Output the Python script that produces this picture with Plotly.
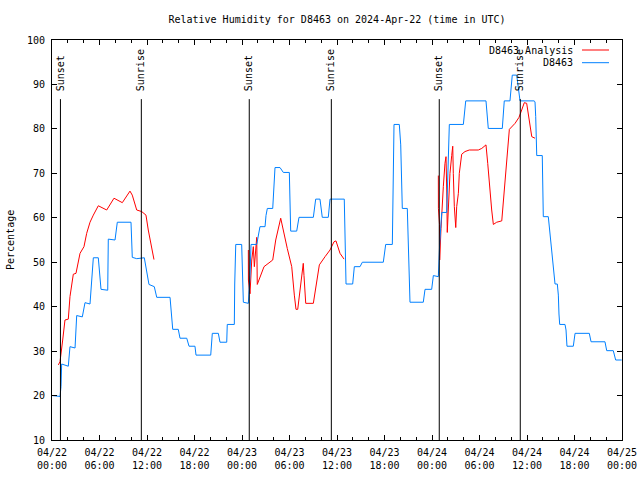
import pandas as pd
import plotly.graph_objects as go

BASE = pd.Timestamp("2024-04-22 00:00")

# Observations D8463 (hours since 2024-04-22 00:00 UTC, RH %)
obs_hours = [0.0, 1.01, 1.14, 1.17, 1.22, 2.06, 2.27, 2.91, 3.12, 3.83, 4.17, 4.80, 5.22, 5.85,
             6.19, 7.04, 7.11, 7.96, 8.25, 9.98, 10.14, 10.70, 11.66, 12.25, 12.92, 13.23, 14.91,
             15.25, 15.95, 16.17, 17.02, 17.31, 18.06, 18.19, 20.05, 20.25, 21.01, 21.22, 22.07,
             22.14, 23.03, 23.08, 23.21, 23.96, 24.17, 24.80, 25.01, 25.14, 25.86, 26.27, 26.91,
             27.03, 27.20, 27.88, 28.17, 28.80, 29.22, 29.98, 30.15, 30.91, 31.20, 33.01, 33.31,
             33.85, 34.14, 34.90, 35.12, 36.92, 37.14, 37.98, 38.19, 38.91, 39.20, 41.85, 42.15,
             42.99, 43.20, 43.87, 44.05, 44.25, 44.88, 45.22, 46.90, 47.12, 47.96, 48.17, 48.80,
             48.97, 49.23, 49.86, 50.19, 51.96, 52.26, 54.82, 55.11, 56.88, 57.13, 57.85, 58.14,
             58.70, 59.12, 60.89, 61.01, 61.10, 61.23, 61.93, 61.98, 62.06, 62.69, 62.78, 62.91,
             63.03, 63.20, 63.32, 63.45, 63.54, 63.83, 63.96, 64.04, 64.13, 64.80, 64.93, 65.05,
             65.85, 66.07, 67.87, 68.09, 69.85, 70.07, 70.90, 71.20, 71.96]
obs_rh = [20, 19.8, 22, 25.4, 27.1, 26.6, 31, 30.7, 38, 37.7, 40.9, 40.6, 51, 51,
          43.9, 43.7, 55.2, 55, 59, 59, 51.1, 50.8, 51, 45, 44.5, 42.1, 42.1,
          34.9, 34.9, 32.9, 32.9, 31.1, 31.1, 29.1, 29.1, 34, 34, 32, 32,
          36, 36, 45.1, 54, 54, 41, 40.75, 47, 54, 54, 58, 58,
          60.5, 62.1, 62.1, 71.3, 71.3, 70.2, 70.2, 57, 57, 60.1, 60.1, 64.2,
          64.2, 60.1, 60.1, 64.2, 64.2, 45.1, 45.1, 49, 49, 50, 50, 54,
          54, 81, 81, 76.4, 62.1, 62.1, 41, 41, 43.9, 43.9, 47, 46.75,
          54.2, 61.2, 61.2, 81, 81, 86.3, 86.3, 80.1, 80.1, 86.3, 86.3, 92.1,
          92.1, 86.3, 86.3, 86.1, 82.75, 74, 74, 67.1, 60.25, 60.25, 58.75, 56.5,
          53.9, 51.25, 48.6, 46.2, 45.1, 45.1, 42.6, 38.35, 36, 36, 34.75, 31.1,
          31.1, 34, 34, 32.1, 32.1, 30.1, 30.1, 28, 28]

# Analysis D8463 (three separate segments)
ana_hours_1 = [0.80, 1.01, 1.35, 1.64, 2.06, 2.27, 2.69, 3.03, 3.54, 4.04, 4.38, 4.80, 5.22, 5.85,
               6.91, 7.83, 8.88, 9.85, 10.14, 10.70, 11.33, 11.87, 12.16, 12.59, 12.88]
ana_rh_1 = [26.9, 27.6, 32.5, 37, 37.2, 42.25, 47.3, 47.5, 52, 53.5, 56.5, 59, 60.6, 62.7,
            61.75, 64.4, 63.4, 66, 65.1, 61.75, 61.4, 60.6, 57.25, 53.5, 50.6]
ana_hours_2 = [24.80, 24.81, 25.01, 25.23, 25.43, 25.56, 25.86, 25.93, 26.78, 27.88, 28.26, 28.89,
               29.72, 30.28, 30.61, 30.82, 31.04, 31.24, 31.54, 31.74, 31.83, 31.96, 32.05, 33.01,
               33.22, 33.77, 34.49, 35.12, 35.62, 35.87, 36.38, 36.89]
ana_rh_2 = [52.75, 46, 42.9, 50.5, 53.5, 49, 55.6, 45, 49, 50.5, 55, 59.9,
            53.1, 49, 42.6, 39.4, 39.4, 42.25, 47.5, 49.75, 47, 43, 40.75, 40.75,
            43, 49.4, 51.25, 52.75, 54.6, 54.8, 52, 50.7]
ana_hours_3 = [48.80, 48.81, 48.95, 48.97, 49.14, 49.30, 49.43, 49.64, 49.77, 49.86, 49.93, 50.06,
               50.27, 50.49, 50.62, 50.69, 50.82, 51.00, 51.12, 51.33, 51.45, 51.75, 52.17, 52.71,
               53.85, 54.28, 54.82, 55.04, 55.33, 55.54, 55.75, 56.17, 56.81, 57.01, 57.35, 57.56,
               57.77, 58.49, 58.99, 59.33, 59.66, 59.96, 60.25, 60.60, 61.01]
ana_rh_3 = [69.5, 62.1, 58.5, 50.5, 57.6, 64, 67, 72.25, 73.75, 66.25, 56.7, 61.75,
            70, 74, 76.1, 70, 62.5, 57.8, 62.5, 65.5, 70, 74.3, 74.9, 75.25,
            75.25, 75.6, 76.4, 72.25, 65.5, 61.75, 58.5, 59, 59.3, 64, 70, 76,
            79.9, 81.25, 82.6, 84.25, 85.9, 85.75, 82, 78.25, 77.9]

# Sun events
event_times = ["2024-04-22 01:04", "2024-04-22 11:17", "2024-04-23 00:55",
               "2024-04-23 11:17", "2024-04-24 00:55", "2024-04-24 11:09"]
event_labels = ["Sunset", "Sunrise", "Sunset", "Sunrise", "Sunset", "Sunrise"]

y_ticks = list(range(10, 101, 10))


def to_time(hours):
    return list(BASE + pd.to_timedelta(hours, unit="h"))


ana_x = to_time(ana_hours_1) + [None] + to_time(ana_hours_2) + [None] + to_time(ana_hours_3)
ana_y = ana_rh_1 + [None] + ana_rh_2 + [None] + ana_rh_3

FONT = "DejaVu Sans Mono"
RED = "#ff0000"
BLUE = "#0080ff"

fig = go.Figure()
fig.add_trace(go.Scatter(x=ana_x, y=ana_y, mode="lines", name="D8463 Analysis",
                         line=dict(color=RED, width=1), connectgaps=False))
fig.add_trace(go.Scatter(x=to_time(obs_hours), y=obs_rh, mode="lines", name="D8463",
                         line=dict(color=BLUE, width=1)))

for t, lab in zip(event_times, event_labels):
    fig.add_shape(type="line", xref="x", yref="y", x0=t, x1=t, y0=10, y1=86.7,
                  line=dict(color="black", width=1))
    fig.add_annotation(x=t, y=88.1, xref="x", yref="y", text=lab, textangle=-90,
                       showarrow=False, xanchor="center", yanchor="bottom",
                       font=dict(family=FONT, size=10, color="black"))

# custom legend (text left of line sample, like the original)
for i, (name, col) in enumerate([("D8463 Analysis", RED), ("D8463", BLUE)]):
    ypix = 50 + i * 12.7
    yp = 1 - (ypix - 40) / 400
    fig.add_annotation(x=(575 - 52) / 570, y=yp, xref="paper", yref="paper", text=name,
                       showarrow=False, xanchor="right", yanchor="middle",
                       font=dict(family=FONT, size=10, color="black"))
    fig.add_shape(type="line", xref="paper", yref="paper",
                  x0=(582 - 52) / 570, x1=(609 - 52) / 570, y0=yp, y1=yp,
                  line=dict(color=col, width=1))

fig.add_annotation(x=(10 - 52) / 570, y=0.5, xref="paper", yref="paper", text="Percentage",
                   textangle=-90, showarrow=False, xanchor="center", yanchor="middle",
                   font=dict(family=FONT, size=10, color="black"))

fig.update_layout(
    width=640, height=480,
    margin=dict(l=52, r=18, t=40, b=40),
    paper_bgcolor="white", plot_bgcolor="white",
    showlegend=False,
    font=dict(family=FONT, size=10, color="black"),
    title=dict(text="Relative Humidity for D8463 on 2024-Apr-22 (time in UTC)",
               x=0.5, xref="paper", y=1 - 19 / 480, yref="container",
               xanchor="center", yanchor="middle",
               font=dict(family=FONT, size=10, color="black")),
)
fig.update_xaxes(
    range=["2024-04-22 00:00", "2024-04-25 00:00"], automargin=False,
    tickmode="linear", tick0="2024-04-22 00:00", dtick=6 * 3600 * 1000,
    tickformat="%m/%d<br>%H:%M", ticklabelstandoff=3,
    ticks="inside", ticklen=5, tickcolor="black", tickwidth=1,
    showline=True, linecolor="black", linewidth=1, mirror="ticks",
    showgrid=False, zeroline=False,
    minor=dict(dtick=2 * 3600 * 1000, tick0="2024-04-22 00:00", ticks="inside", ticklen=3,
               tickcolor="black", showgrid=False),
    tickfont=dict(family=FONT, size=10, color="black"),
)
fig.update_yaxes(
    range=[10, 100], tickvals=y_ticks, automargin=False, ticklabelstandoff=4,
    ticks="inside", ticklen=5, tickcolor="black", tickwidth=1,
    showline=True, linecolor="black", linewidth=1, mirror="ticks",
    showgrid=False, zeroline=False,
    tickfont=dict(family=FONT, size=10, color="black"),
)

fig.write_html("out.html", config={"displayModeBar": False},
               post_script="document.body.style.margin='0';document.body.style.padding='0';")
